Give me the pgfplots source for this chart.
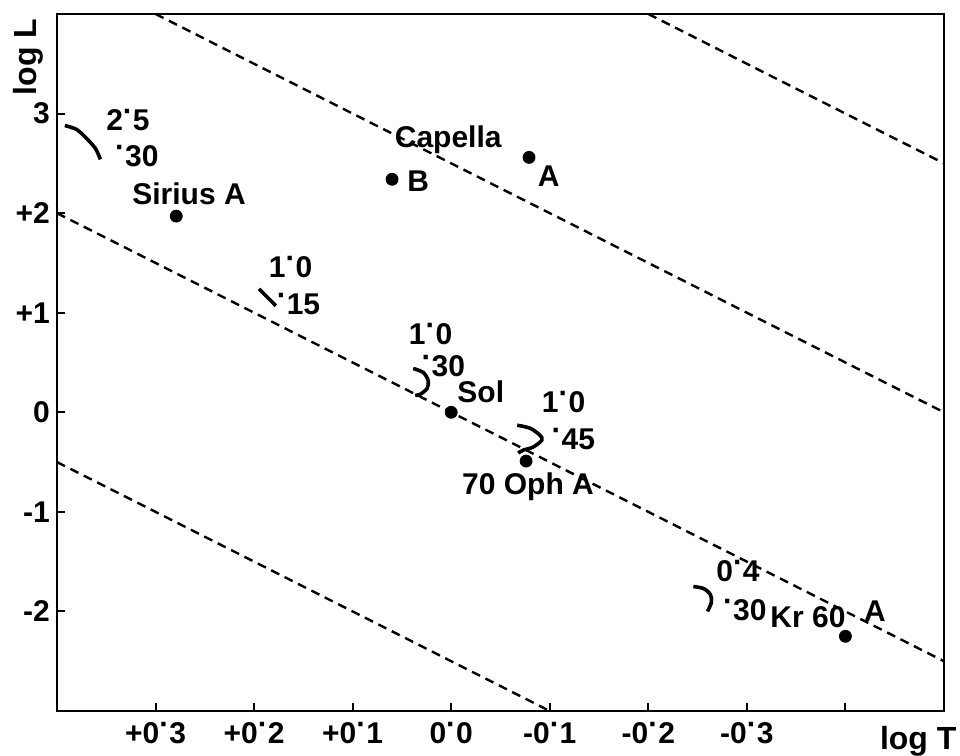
\documentclass[border=0pt]{standalone}
\usepackage{fontspec}
\setmainfont{Liberation Sans}
\usepackage{pgfplots}
\pgfplotsset{compat=1.18}
\newcommand\f{\fontsize{15}{18}\selectfont\bfseries}
\newcommand\F{\fontsize{16}{19}\selectfont\bfseries}
\newcommand\dt{\raisebox{0.3em}{·}}
\tikzset{lab/.style={font=\f, inner sep=0pt}}
\begin{document}
\begin{tikzpicture}
\useasboundingbox (-28.5pt,-22.5pt) rectangle (451.5pt,355.5pt);
\begin{axis}[
  at={(0,0)}, anchor=south west,
  width=443.5pt, height=348.5pt, scale only axis,
  x dir=reverse, xmin=-0.5, xmax=0.4, ymin=-3, ymax=4,
  axis line style={line width=1pt},
  xtick={-0.4,-0.3,-0.2,-0.1,0,0.1,0.2,0.3},
  xticklabels={,-0\dt3,-0\dt2,-0\dt1,0\dt0,+0\dt1,+0\dt2,+0\dt3},
  ytick={-2,-1,0,1,2,3},
  yticklabels={-2,-1,0,+1,+2,3},
  tick align=inside, xtick pos=bottom, ytick pos=left,
  major tick length=4pt,
  tick style={line width=1pt, black},
  tick label style={font=\f},
  xticklabel style={yshift=-2pt},
  yticklabel style={xshift=0pt},
  xlabel={log T}, ylabel={log L},
  xlabel style={font=\F, at={(0.971,-0.043)}, anchor=center},
  ylabel style={font=\F, at={(-0.032,0.938)}, anchor=center},
  clip mode=individual,
]
% constant-radius lines
\addplot[black, line width=1.2pt, dash pattern=on 4.5pt off 3pt] coordinates {(-0.2,4) (-0.5,2.5)};
\addplot[black, line width=1.2pt, dash pattern=on 4.5pt off 3pt] coordinates {(0.3,4) (-0.5,0)};
\addplot[black, line width=1.2pt, dash pattern=on 4.5pt off 3pt] coordinates {(0.4,2) (-0.5,-2.5)};
\addplot[black, line width=1.2pt, dash pattern=on 4.5pt off 3pt] coordinates {(0.4,-0.5) (-0.1,-3)};
% evolutionary tracks
\addplot[black, line width=1.8pt, smooth] coordinates {(0.392,2.88) (0.380,2.84) (0.370,2.75) (0.361,2.65) (0.356,2.54)};
\addplot[black, line width=1.8pt] coordinates {(0.195,1.24) (0.178,1.07)};
\addplot[black, line width=1.8pt, smooth] coordinates {(0.0386,0.44) (0.0284,0.40) (0.0234,0.32) (0.0244,0.24) (0.0315,0.18) (0.0365,0.17)};
\addplot[black, line width=1.8pt, smooth] coordinates {(-0.067,-0.13) (-0.080,-0.16) (-0.090,-0.23) (-0.092,-0.28) (-0.083,-0.35) (-0.073,-0.38) (-0.068,-0.41)};
\addplot[black, line width=1.8pt, smooth] coordinates {(-0.2457,-1.75) (-0.256,-1.77) (-0.263,-1.83) (-0.264,-1.91) (-0.260,-2.00)};
% stars
\addplot[only marks, mark=*, mark size=3pt, black] coordinates {
  (0.279,1.97) (0.060,2.34) (-0.079,2.56) (0.0,0.0) (-0.076,-0.49) (-0.400,-2.25)};
% labels
\node[lab] at (axis cs:0.328,2.94) {2\dt5};
\node[lab] at (axis cs:0.319,2.57) {\dt30};
\node[lab] at (axis cs:0.266,2.19) {Sirius A};
\node[lab] at (axis cs:0.003,2.74) {Capella};
\node[lab] at (axis cs:-0.099,2.37) {A};
\node[lab] at (axis cs:0.0335,2.32) {B};
\node[lab] at (axis cs:0.163,1.46) {1\dt0};
\node[lab] at (axis cs:0.155,1.09) {\dt15};
\node[lab] at (axis cs:0.021,0.79) {1\dt0};
\node[lab] at (axis cs:0.008,0.46) {\dt30};
\node[lab] at (axis cs:-0.030,0.21) {Sol};
\node[lab] at (axis cs:-0.114,0.10) {1\dt0};
\node[lab] at (axis cs:-0.124,-0.27) {\dt45};
\node[lab] at (axis cs:-0.078,-0.75) {70 Oph A};
\node[lab] at (axis cs:-0.291,-1.59) {0\dt4};
\node[lab] at (axis cs:-0.298,-1.99) {\dt30};
\node[lab] at (axis cs:-0.362,-2.06) {Kr 60};
\node[lab] at (axis cs:-0.430,-2.00) {A};
\end{axis}
\end{tikzpicture}
\end{document}
